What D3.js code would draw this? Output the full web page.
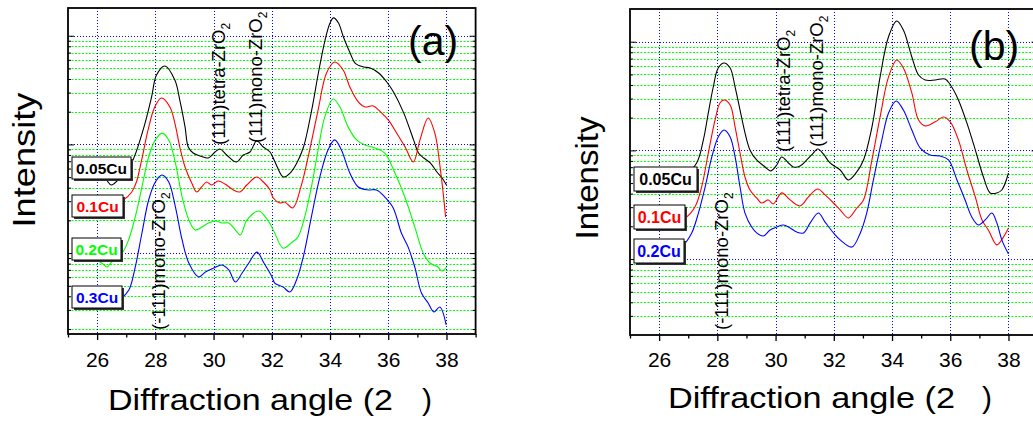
<!DOCTYPE html>
<html>
<head>
<meta charset="utf-8">
<script src="https://cdn.jsdelivr.net/npm/d3@7"></script>
<style>
  body { margin: 0; background: #fff; }
  svg { display: block; }
  text { font-family: "Liberation Sans", Arial, Helvetica, sans-serif; }
</style>
</head>
<body>
<svg id="chart" width="1033" height="421"></svg>
<script>
// XRD patterns: [2-theta (deg), intensity (counts)], log intensity axis

// panel (a)
const a_005Cu = [[26.2,557],[26.35,460],[26.49,423],[26.72,470],[27.18,674],[27.58,1360],[27.87,2730],[28.04,4350],[28.33,5270],[28.67,3910],[28.84,2560],[29.02,1450],[29.13,946],[29.3,833],[29.65,766],[29.82,750],[30.05,851],[30.22,907],[30.45,799],[30.79,689],[31.02,799],[31.25,851],[31.48,1075],[31.71,946],[31.94,851],[32.11,689],[32.4,501],[32.63,545],[32.86,674],[33.09,946],[33.37,2070],[33.6,4540],[33.83,9130],[34.0,13100],[34.12,14600],[34.29,13100],[34.46,9730],[34.69,6940],[34.86,5610],[35.15,5160],[35.38,5050],[35.67,4540],[35.95,3750],[36.18,3030],[36.53,1950],[36.87,1100],[37.04,833],[37.22,750],[37.45,674],[37.67,557],[37.85,491],[38.0,423]];
const a_01Cu = [[26.5,283],[26.9,308],[27.19,365],[27.35,451],[27.53,719],[27.75,1360],[27.98,2210],[28.21,2670],[28.5,2210],[28.67,1570],[28.84,946],[29.02,619],[29.25,441],[29.42,365],[29.59,406],[29.76,451],[29.93,423],[30.16,460],[30.39,432],[30.68,381],[30.91,365],[31.14,423],[31.48,501],[31.71,451],[31.94,381],[32.05,321],[32.28,289],[32.44,295],[32.72,260],[33.0,406],[33.3,888],[33.59,2070],[33.88,4540],[34.16,5730],[34.45,4840],[34.68,3380],[34.97,2460],[35.2,2210],[35.48,2260],[35.77,1950],[36.0,1680],[36.29,1270],[36.58,946],[36.86,689],[37.09,1100],[37.37,1750],[37.6,1270],[37.78,619],[37.97,215]];
const a_02Cu = [[26.0,86.3],[26.2,79.3],[26.34,74.4],[26.5,82.7],[26.86,100],[27.08,132],[27.31,215],[27.54,406],[27.77,766],[28.0,1100],[28.23,1270],[28.46,1100],[28.69,674],[28.92,328],[29.15,202],[29.37,163],[29.6,174],[29.83,189],[30.06,197],[30.29,189],[30.52,189],[30.75,163],[30.92,147],[31.15,202],[31.55,244],[31.78,215],[32.0,174],[32.1,153],[32.39,111],[32.67,124],[32.9,141],[33.13,215],[33.36,406],[33.59,888],[33.82,1790],[34.11,2620],[34.34,2210],[34.62,1450],[34.91,1100],[35.2,987],[35.54,927],[35.88,833],[36.23,545],[36.57,328],[36.91,174],[37.2,100],[37.43,81.0],[37.71,74.4],[37.83,68.4],[38.0,74.4]];
const a_03Cu = [[26.5,36.2],[26.83,38.6],[27.09,45.7],[27.31,74.4],[27.54,153],[27.77,308],[28.0,451],[28.23,523],[28.46,451],[28.69,265],[28.92,132],[29.15,81.0],[29.49,60.2],[29.72,67.0],[30.01,72.9],[30.29,77.7],[30.52,69.9],[30.75,54.2],[30.98,65.6],[31.21,81.0],[31.49,102],[31.73,81.0],[32.01,60.2],[32.1,53.0],[32.39,48.7],[32.62,43.8],[32.85,56.5],[33.08,92.0],[33.36,215],[33.65,501],[33.93,888],[34.16,1100],[34.39,888],[34.68,545],[34.97,406],[35.31,381],[35.6,381],[35.88,328],[36.17,260],[36.45,153],[36.68,114],[36.91,74.4],[37.14,42.9],[37.37,34.7],[37.57,28.7],[37.77,31.9],[37.99,21.8]];

// panel (b)
const b_005Cu = [[26.1,534],[26.37,406],[26.6,481],[27.29,766],[27.52,1250],[27.69,2210],[27.86,3830],[28.03,5730],[28.23,6370],[28.44,5730],[28.61,3830],[28.78,2350],[28.95,1450],[29.12,1010],[29.35,816],[29.64,704],[29.83,647],[30.04,734],[30.21,870],[30.44,766],[30.61,704],[30.84,719],[31.07,816],[31.24,907],[31.45,1030],[31.64,927],[31.87,766],[32.22,660],[32.5,534],[32.79,633],[33.02,816],[33.31,1640],[33.59,4740],[33.88,11100],[34.16,15500],[34.39,12800],[34.68,7240],[34.91,4940],[35.14,4440],[35.48,4440],[35.82,4540],[36.05,3830],[36.28,2910],[36.57,1790],[36.86,1010],[37.14,569],[37.37,406],[37.6,406],[37.77,432],[38.0,619]];
const b_01Cu = [[26.5,229],[26.89,239],[27.23,301],[27.46,460],[27.69,946],[27.92,1900],[28.09,2730],[28.23,2910],[28.44,2620],[28.61,1640],[28.78,946],[28.95,569],[29.12,432],[29.35,365],[29.52,328],[29.75,350],[29.92,321],[30.21,406],[30.5,350],[30.84,308],[31.13,373],[31.45,441],[31.7,389],[31.99,328],[32.22,283],[32.5,239],[32.79,295],[33.02,350],[33.31,816],[33.59,2030],[33.88,4740],[34.16,6790],[34.39,5730],[34.68,3380],[34.91,1900],[35.14,1680],[35.48,1830],[35.77,2030],[36.0,1830],[36.28,1250],[36.57,660],[36.86,373],[37.09,229],[37.31,185],[37.6,135],[37.83,160],[38.0,193]];
const b_02Cu = [[26.5,121],[26.83,135],[27.12,174],[27.35,265],[27.58,460],[27.81,870],[28.03,1330],[28.23,1540],[28.44,1330],[28.61,870],[28.78,460],[28.95,265],[29.18,197],[29.35,174],[29.58,163],[29.81,185],[30.04,197],[30.27,206],[30.5,193],[30.73,177],[30.96,174],[31.19,215],[31.47,265],[31.7,219],[31.99,174],[32.22,150],[32.62,129],[32.91,174],[33.13,265],[33.36,534],[33.65,1250],[33.88,2210],[34.14,2850],[34.39,2350],[34.68,1540],[34.97,1050],[35.31,907],[35.65,888],[35.94,816],[36.23,534],[36.51,350],[36.74,244],[36.97,206],[37.2,229],[37.43,265],[37.6,215],[37.77,150],[38.0,111]];

const namesA = ["0.05Cu", "0.1Cu", "0.2Cu", "0.3Cu"];
const namesB = ["0.05Cu", "0.1Cu", "0.2Cu"];
const colorsA = ["#000000", "#ff0000", "#00ff00", "#0000ff"];
const colorsB = ["#000000", "#ff0000", "#0000ff"];

const xDomain = [25, 39];
const xMajorTicks = [26, 28, 30, 32, 34, 36, 38];
const xMinorTicks = [25, 27, 29, 31, 33, 35, 37, 39];

// reflection labels: [text before subscript, subscript, peak position (deg)]
const peakLabelsA = [["(-111)mono-ZrO", "2", 28.33], ["(111)tetra-ZrO", "2", 30.38], ["(111)mono-ZrO", "2", 31.65]];
const peakLabelsB = [["(-111)mono-ZrO", "2", 28.37], ["(111)tetra-ZrO", "2", 30.49], ["(111)mono-ZrO", "2", 31.63]];

const W = 407.6, H = 326;
const panels = [
  { key: "a", left: 68, top: 8, yDomain: [18, 18000],
    series: [a_005Cu, a_01Cu, a_02Cu, a_03Cu], names: namesA, colors: colorsA,
    tag: "(a)", tagX: 408, tagY: 54.7,
    boxTop: [157, 195, 238, 286], boxW: [59, 51, 49, 50], boxH: 22, boxFont: 15.5,
    yTitle: { x: 35, y: 160, len: 135 },
    xTitle: { x: 108, y: 410, len: 285, close: 422 },
    peaks: peakLabelsA, peakBottom: [330, 145, 143] },
  { key: "b", left: 630, top: 9, yDomain: [20, 20000],
    series: [b_005Cu, b_01Cu, b_02Cu], names: namesB, colors: colorsB,
    tag: "(b)", tagX: 969, tagY: 59.5,
    boxTop: [167, 205, 239], boxW: [63, 51, 50], boxH: 24, boxFont: 16,
    yTitle: { x: 598, y: 178, len: 123 },
    xTitle: { x: 668, y: 408, len: 287, close: 982 },
    peaks: peakLabelsB, peakBottom: [330, 152, 147] }
];

const svg = d3.select("#chart");
const defs = svg.append("defs");

panels.forEach(p => {
  const x = d3.scaleLinear().domain(xDomain).range([p.left, p.left + W]);
  const y = d3.scaleLog().domain(p.yDomain).range([p.top + H, p.top]);
  const bottom = p.top + H;
  const g = svg.append("g");

  defs.append("clipPath").attr("id", "clip-" + p.key)
    .append("rect").attr("x", p.left).attr("y", p.top).attr("width", W).attr("height", H);

  // decade and sub-decade intensity levels inside the axis range
  const major = [], minor = [];
  for (let dec = 1; dec <= 1e5; dec *= 10) {
    for (let k = 1; k < 10; k++) {
      const v = k * dec;
      if (v > p.yDomain[0] * 1.01 && v < p.yDomain[1] * 0.99) (k === 1 ? major : minor).push(v);
    }
  }
  const crisp = v => Math.round(v) + 0.5;

  // grid
  const grid = g.append("g");
  grid.selectAll(".gmin").data(minor).enter().append("line")
    .attr("x1", p.left).attr("x2", p.left + W)
    .attr("y1", d => crisp(y(d))).attr("y2", d => crisp(y(d)))
    .attr("stroke", "#00ff00").attr("stroke-width", 1).attr("stroke-dasharray", "2,1.5");
  grid.selectAll(".gmaj").data(major).enter().append("line")
    .attr("x1", p.left).attr("x2", p.left + W)
    .attr("y1", d => crisp(y(d))).attr("y2", d => crisp(y(d)))
    .attr("stroke", "#0000ff").attr("stroke-width", 1).attr("stroke-dasharray", "1,2");
  grid.selectAll(".gx").data(xMajorTicks).enter().append("line")
    .attr("x1", d => crisp(x(d))).attr("x2", d => crisp(x(d)))
    .attr("y1", p.top).attr("y2", bottom)
    .attr("stroke", "#0000ff").attr("stroke-width", 1).attr("stroke-dasharray", "1,2");

  // patterns
  const line = d3.line().x(d => x(d[0])).y(d => y(d[1])).curve(d3.curveCatmullRom.alpha(0.5));
  const curves = g.append("g").attr("clip-path", "url(#clip-" + p.key + ")");
  p.series.forEach((s, i) => {
    curves.append("path").datum(s).attr("d", line)
      .attr("fill", "none").attr("stroke", p.colors[i]).attr("stroke-width", 1.1);
  });

  // frame
  g.append("rect").attr("x", p.left).attr("y", p.top).attr("width", W).attr("height", H)
    .attr("fill", "none").attr("stroke", "#000").attr("stroke-width", 1.8);

  // inward intensity ticks on both sides
  const yTick = (axisFn, tx, vals, size) => {
    const a = g.append("g").attr("transform", `translate(${tx},0)`)
      .call(axisFn(y).tickValues(vals).tickSize(size).tickFormat(""));
    a.select(".domain").remove();
    a.selectAll("line").attr("stroke", "#000");
  };
  yTick(d3.axisRight, p.left, major, 6);
  yTick(d3.axisRight, p.left, minor, 3);
  yTick(d3.axisLeft, p.left + W, major, 6);
  yTick(d3.axisLeft, p.left + W, minor, 3);

  // angle axis
  const pad = 367 - bottom - 6 - 0.71 * 21;
  const xa = g.append("g").attr("transform", `translate(0,${bottom})`)
    .call(d3.axisBottom(x).tickValues(xMajorTicks).tickSize(6).tickPadding(pad).tickFormat(d3.format("d")));
  xa.select(".domain").remove();
  xa.selectAll("line").attr("stroke", "#000").attr("stroke-width", 1.3);
  xa.selectAll("text").attr("font-size", 21).attr("fill", "#000")
    .attr("font-family", '"Liberation Sans", Arial, sans-serif');
  const xm = g.append("g").attr("transform", `translate(0,${bottom})`)
    .call(d3.axisBottom(x).tickValues(xMinorTicks).tickSize(3.5).tickFormat(""));
  xm.select(".domain").remove();
  xm.selectAll("line").attr("stroke", "#000").attr("stroke-width", 1.3);

  // series labels in boxes
  p.names.forEach((n, i) => {
    const bx = p.left + 4, by = p.boxTop[i], bw = p.boxW[i], bh = p.boxH;
    g.append("rect").attr("x", bx + 2).attr("y", by + 2).attr("width", bw).attr("height", bh).attr("fill", "#333");
    g.append("rect").attr("x", bx).attr("y", by).attr("width", bw).attr("height", bh)
      .attr("fill", "#fff").attr("stroke", "#000").attr("stroke-width", 1);
    g.append("text").attr("x", bx + bw / 2).attr("y", by + bh / 2 + p.boxFont * 0.36)
      .attr("text-anchor", "middle").attr("font-weight", "bold").attr("font-size", p.boxFont)
      .attr("fill", p.colors[i]).text(n);
  });

  // reflection labels
  p.peaks.forEach((pk, i) => {
    const t = g.append("text")
      .attr("transform", `translate(${x(pk[2])},${p.peakBottom[i]}) rotate(-90)`)
      .attr("font-size", 18.5).attr("fill", "#000");
    t.append("tspan").text(pk[0]);
    t.append("tspan").attr("font-size", 12).attr("dy", 5).text(pk[1]);
  });

  // panel tag
  g.append("text").attr("x", p.tagX).attr("y", p.tagY).attr("font-size", 41).attr("fill", "#000").text(p.tag);

  // axis titles
  g.append("text").attr("transform", `translate(${p.yTitle.x},${p.yTitle.y}) rotate(-90)`)
    .attr("text-anchor", "middle").attr("font-size", 32).attr("fill", "#000")
    .attr("textLength", p.yTitle.len).attr("lengthAdjust", "spacingAndGlyphs").text("Intensity");
  g.append("text").attr("x", p.xTitle.x).attr("y", p.xTitle.y).attr("font-size", 30).attr("fill", "#000")
    .attr("textLength", p.xTitle.len).attr("lengthAdjust", "spacingAndGlyphs").text("Diffraction angle (2");
  g.append("text").attr("x", p.xTitle.close).attr("y", p.xTitle.y).attr("font-size", 30).attr("fill", "#000").text(")");
});
</script>
</body>
</html>
